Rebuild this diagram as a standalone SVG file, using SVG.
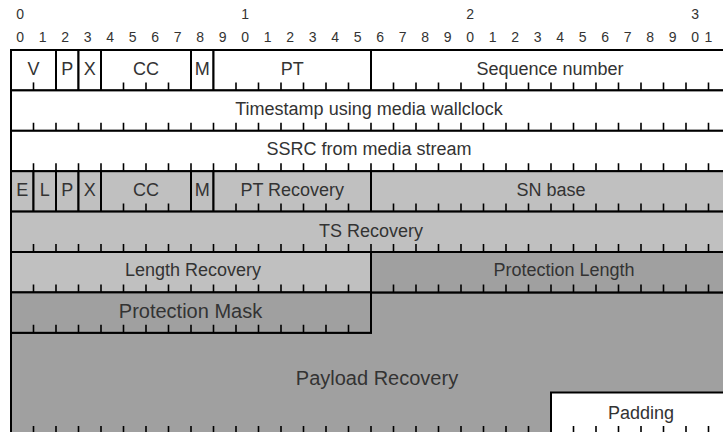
<svg xmlns="http://www.w3.org/2000/svg" width="723" height="432" viewBox="0 0 723 432">
<style>
text{font-family:"Liberation Sans",Arial,sans-serif;fill:#333;text-anchor:middle}
.f{font-size:18px}
.g{font-size:20px}
.h text{font-size:14px}
.b{stroke:#000;stroke-width:2}
.w{fill:#fff}
.l{fill:#c0c0c0}
.d{fill:#a0a0a0}
.t{stroke:#000;stroke-width:1.6;fill:none}
</style>
<rect width="723" height="432" fill="#fff"/>
<g id="header" class="h">
<text x="20.25" y="19">0</text><text x="245.25" y="19">1</text><text x="470.25" y="19">2</text><text x="695.25" y="19">3</text>
<text x="20.25" y="41.7">0</text><text x="42.75" y="41.7">1</text><text x="65.25" y="41.7">2</text><text x="87.75" y="41.7">3</text><text x="110.25" y="41.7">4</text><text x="132.75" y="41.7">5</text><text x="155.25" y="41.7">6</text><text x="177.75" y="41.7">7</text><text x="200.25" y="41.7">8</text><text x="222.75" y="41.7">9</text>
<text x="245.25" y="41.7">0</text><text x="267.75" y="41.7">1</text><text x="290.25" y="41.7">2</text><text x="312.75" y="41.7">3</text><text x="335.25" y="41.7">4</text><text x="357.75" y="41.7">5</text><text x="380.25" y="41.7">6</text><text x="402.75" y="41.7">7</text><text x="425.25" y="41.7">8</text><text x="447.75" y="41.7">9</text>
<text x="470.25" y="41.7">0</text><text x="492.75" y="41.7">1</text><text x="515.25" y="41.7">2</text><text x="537.75" y="41.7">3</text><text x="560.25" y="41.7">4</text><text x="582.75" y="41.7">5</text><text x="605.25" y="41.7">6</text><text x="627.75" y="41.7">7</text><text x="650.25" y="41.7">8</text><text x="672.75" y="41.7">9</text>
<text x="695.25" y="41.7">0</text><text x="708.5" y="41.7">1</text>
</g>

<g id="payload">
<path class="d b" d="M11 332.8H371V292.4H731V434H11Z"/>
<path class="t" d="M33.5 434v-8m22.5 8v-8m22.5 8v-8m22.5 8v-8m22.5 8v-8m22.5 8v-8m22.5 8v-8m22.5 8v-8m22.5 8v-8m22.5 8v-8m22.5 8v-8m22.5 8v-8m22.5 8v-8m22.5 8v-8m22.5 8v-8m22.5 8v-8m22.5 8v-8m22.5 8v-8m22.5 8v-8m22.5 8v-8m22.5 8v-8m22.5 8v-8m22.5 8v-8"/>
<text class="g" x="377" y="385">Payload Recovery</text>
</g>
<g id="padding">
<rect class="w b" x="551" y="392.5" width="180" height="41.5"/>
<path class="t" d="M573.5 434v-8m22.5 8v-8m22.5 8v-8m22.5 8v-8m22.5 8v-8m22.5 8v-8m22.5 8v-8"/>
<text class="f" x="641" y="418.5">Padding</text>
</g>

<g id="f-v">
<rect class="w b" x="11" y="50" width="45" height="40.4"/>
<path class="t" d="M33.5 90.4v-8"/>
<text class="f" x="33.5" y="75">V</text>
</g>
<g id="f-p">
<rect class="w b" x="56" y="50" width="22.5" height="40.4"/>
<text class="f" x="67.25" y="75">P</text>
</g>
<g id="f-x">
<rect class="w b" x="78.5" y="50" width="22.5" height="40.4"/>
<text class="f" x="89.75" y="75">X</text>
</g>
<g id="f-cc">
<rect class="w b" x="101" y="50" width="90" height="40.4"/>
<path class="t" d="M123.5 90.4v-8m22.5 8v-8m22.5 8v-8"/>
<text class="f" x="146" y="75">CC</text>
</g>
<g id="f-m">
<rect class="w b" x="191" y="50" width="22.5" height="40.4"/>
<text class="f" x="202.25" y="75">M</text>
</g>
<g id="f-pt">
<rect class="w b" x="213.5" y="50" width="157.5" height="40.4"/>
<path class="t" d="M236 90.4v-8m22.5 8v-8m22.5 8v-8m22.5 8v-8m22.5 8v-8m22.5 8v-8"/>
<text class="f" x="292.25" y="75">PT</text>
</g>
<g id="f-seq">
<rect class="w b" x="371" y="50" width="360" height="40.4"/>
<path class="t" d="M393.5 90.4v-8m22.5 8v-8m22.5 8v-8m22.5 8v-8m22.5 8v-8m22.5 8v-8m22.5 8v-8m22.5 8v-8m22.5 8v-8m22.5 8v-8m22.5 8v-8m22.5 8v-8m22.5 8v-8m22.5 8v-8m22.5 8v-8"/>
<text class="f" x="550" y="75">Sequence number</text>
</g>

<g id="f-timestamp">
<rect class="w b" x="11" y="90.4" width="720" height="40.4"/>
<path class="t" d="M33.5 130.8v-8m22.5 8v-8m22.5 8v-8m22.5 8v-8m22.5 8v-8m22.5 8v-8m22.5 8v-8m22.5 8v-8m22.5 8v-8m22.5 8v-8m22.5 8v-8m22.5 8v-8m22.5 8v-8m22.5 8v-8m22.5 8v-8m22.5 8v-8m22.5 8v-8m22.5 8v-8m22.5 8v-8m22.5 8v-8m22.5 8v-8m22.5 8v-8m22.5 8v-8m22.5 8v-8m22.5 8v-8m22.5 8v-8m22.5 8v-8m22.5 8v-8m22.5 8v-8m22.5 8v-8m22.5 8v-8"/>
<text class="f" x="369" y="115">Timestamp using media wallclock</text>
</g>
<g id="f-ssrc">
<rect class="w b" x="11" y="130.8" width="720" height="40.4"/>
<path class="t" d="M33.5 171.2v-8m22.5 8v-8m22.5 8v-8m22.5 8v-8m22.5 8v-8m22.5 8v-8m22.5 8v-8m22.5 8v-8m22.5 8v-8m22.5 8v-8m22.5 8v-8m22.5 8v-8m22.5 8v-8m22.5 8v-8m22.5 8v-8m22.5 8v-8m22.5 8v-8m22.5 8v-8m22.5 8v-8m22.5 8v-8m22.5 8v-8m22.5 8v-8m22.5 8v-8m22.5 8v-8m22.5 8v-8m22.5 8v-8m22.5 8v-8m22.5 8v-8m22.5 8v-8m22.5 8v-8m22.5 8v-8"/>
<text class="f" x="369" y="155">SSRC from media stream</text>
</g>

<g id="f-e">
<rect class="l b" x="11" y="171.2" width="22.5" height="40.4"/>
<text class="f" x="22.25" y="196">E</text>
</g>
<g id="f-l">
<rect class="l b" x="33.5" y="171.2" width="22.5" height="40.4"/>
<text class="f" x="44.75" y="196">L</text>
</g>
<g id="f-p2">
<rect class="l b" x="56" y="171.2" width="22.5" height="40.4"/>
<text class="f" x="67.25" y="196">P</text>
</g>
<g id="f-x2">
<rect class="l b" x="78.5" y="171.2" width="22.5" height="40.4"/>
<text class="f" x="89.75" y="196">X</text>
</g>
<g id="f-cc2">
<rect class="l b" x="101" y="171.2" width="90" height="40.4"/>
<path class="t" d="M123.5 211.6v-8m22.5 8v-8m22.5 8v-8"/>
<text class="f" x="146" y="196">CC</text>
</g>
<g id="f-m2">
<rect class="l b" x="191" y="171.2" width="22.5" height="40.4"/>
<text class="f" x="202.25" y="196">M</text>
</g>
<g id="f-ptrec">
<rect class="l b" x="213.5" y="171.2" width="157.5" height="40.4"/>
<path class="t" d="M236 211.6v-8m22.5 8v-8m22.5 8v-8m22.5 8v-8m22.5 8v-8m22.5 8v-8"/>
<text class="f" x="292.25" y="196">PT Recovery</text>
</g>
<g id="f-snbase">
<rect class="l b" x="371" y="171.2" width="360" height="40.4"/>
<path class="t" d="M393.5 211.6v-8m22.5 8v-8m22.5 8v-8m22.5 8v-8m22.5 8v-8m22.5 8v-8m22.5 8v-8m22.5 8v-8m22.5 8v-8m22.5 8v-8m22.5 8v-8m22.5 8v-8m22.5 8v-8m22.5 8v-8m22.5 8v-8"/>
<text class="f" x="551" y="196">SN base</text>
</g>

<g id="f-tsrec">
<rect class="l b" x="11" y="211.6" width="720" height="40.4"/>
<path class="t" d="M33.5 252v-8m22.5 8v-8m22.5 8v-8m22.5 8v-8m22.5 8v-8m22.5 8v-8m22.5 8v-8m22.5 8v-8m22.5 8v-8m22.5 8v-8m22.5 8v-8m22.5 8v-8m22.5 8v-8m22.5 8v-8m22.5 8v-8m22.5 8v-8m22.5 8v-8m22.5 8v-8m22.5 8v-8m22.5 8v-8m22.5 8v-8m22.5 8v-8m22.5 8v-8m22.5 8v-8m22.5 8v-8m22.5 8v-8m22.5 8v-8m22.5 8v-8m22.5 8v-8m22.5 8v-8m22.5 8v-8"/>
<text class="f" x="371" y="237">TS Recovery</text>
</g>

<g id="f-lenrec">
<rect class="l b" x="11" y="252" width="360" height="40.4"/>
<path class="t" d="M33.5 292.4v-8m22.5 8v-8m22.5 8v-8m22.5 8v-8m22.5 8v-8m22.5 8v-8m22.5 8v-8m22.5 8v-8m22.5 8v-8m22.5 8v-8m22.5 8v-8m22.5 8v-8m22.5 8v-8m22.5 8v-8m22.5 8v-8"/>
<text class="f" x="193" y="276">Length Recovery</text>
</g>
<g id="f-protlen">
<rect class="d b" x="371" y="252" width="360" height="40.4"/>
<path class="t" d="M393.5 292.4v-8m22.5 8v-8m22.5 8v-8m22.5 8v-8m22.5 8v-8m22.5 8v-8m22.5 8v-8m22.5 8v-8m22.5 8v-8m22.5 8v-8m22.5 8v-8m22.5 8v-8m22.5 8v-8m22.5 8v-8m22.5 8v-8"/>
<text class="f" x="564" y="276">Protection Length</text>
</g>

<g id="f-protmask">
<rect class="d b" x="11" y="292.4" width="360" height="40.4"/>
<path class="t" d="M33.5 332.8v-8m22.5 8v-8m22.5 8v-8m22.5 8v-8m22.5 8v-8m22.5 8v-8m22.5 8v-8m22.5 8v-8m22.5 8v-8m22.5 8v-8m22.5 8v-8m22.5 8v-8m22.5 8v-8m22.5 8v-8m22.5 8v-8"/>
<text class="g" x="190.5" y="318">Protection Mask</text>
</g>
</svg>
